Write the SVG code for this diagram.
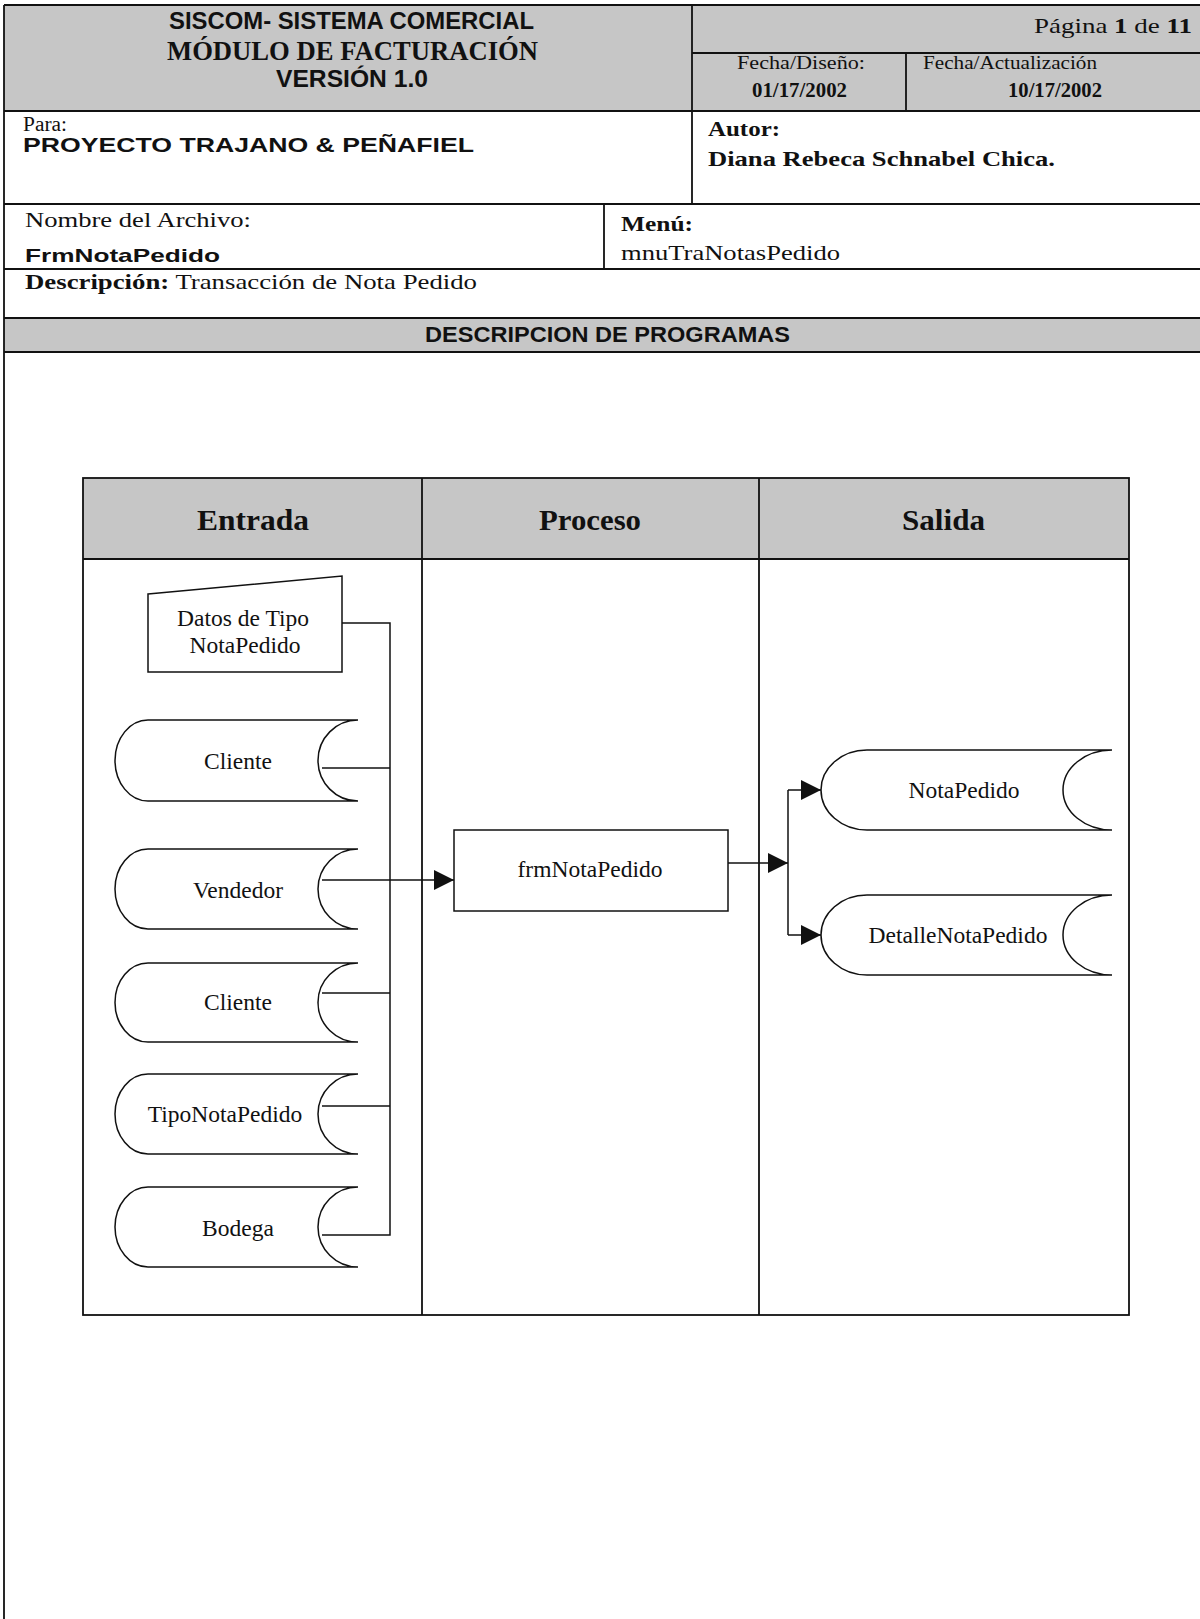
<svg xmlns="http://www.w3.org/2000/svg" width="1200" height="1619" viewBox="0 0 1200 1619">
<style>
.ln{stroke:#111;stroke-width:1.8;fill:none}
.cn{stroke:#111;stroke-width:1.5;fill:none}
.shape{fill:#fff;stroke:#111;stroke-width:1.5}
.gray{fill:#c6c6c6}
.ts{font-family:"Liberation Serif","Times New Roman",serif;fill:#111}
.ss{font-family:"Liberation Sans",Arial,sans-serif;fill:#111}
.b{font-weight:bold}
.lbl{font-family:"Liberation Serif","Times New Roman",serif;font-size:23.5px;fill:#111;text-anchor:middle}
.hd{font-family:"Liberation Serif","Times New Roman",serif;font-size:29px;font-weight:bold;fill:#111}
</style>
<defs>
<marker id="arr" markerUnits="userSpaceOnUse" markerWidth="20" markerHeight="20" refX="20" refY="10" orient="auto" viewBox="0 0 20 20">
<path d="M0,0 L20,10 L0,20 z" fill="#111"/>
</marker>
</defs>

<g id="header">
<rect class="gray" x="4" y="5" width="1196" height="106"/>
<rect class="gray" x="4" y="318" width="1196" height="34"/>
<path class="ln" d="M4,5 H1200 M692,53 H1200 M4,111 H1200 M4,204 H1200 M4,269 H1200 M4,318 H1200 M4,352 H1200 M4,5 V1619 M692,5 V204 M906,53 V111 M604,204 V269"/>
<text class="ss b" x="169" y="29" font-size="23.5" textLength="365" lengthAdjust="spacingAndGlyphs">SISCOM- SISTEMA COMERCIAL</text>
<text class="ts b" x="167" y="60" font-size="27" textLength="371" lengthAdjust="spacingAndGlyphs">MÓDULO DE FACTURACIÓN</text>
<text class="ss b" x="276" y="87" font-size="23" textLength="152" lengthAdjust="spacingAndGlyphs">VERSIÓN 1.0</text>
<text class="ts" x="1034" y="33" font-size="21" textLength="158" lengthAdjust="spacingAndGlyphs">Página <tspan class="b">1</tspan> de <tspan class="b">11</tspan></text>
<text class="ts" x="737" y="69" font-size="18" textLength="128" lengthAdjust="spacingAndGlyphs">Fecha/Diseño:</text>
<text class="ts b" x="752" y="97" font-size="20" textLength="95" lengthAdjust="spacingAndGlyphs">01/17/2002</text>
<text class="ts" x="923" y="69" font-size="18" textLength="174" lengthAdjust="spacingAndGlyphs">Fecha/Actualización</text>
<text class="ts b" x="1008" y="97" font-size="20" textLength="94" lengthAdjust="spacingAndGlyphs">10/17/2002</text>
<text class="ts" x="23" y="131" font-size="20" textLength="44" lengthAdjust="spacingAndGlyphs">Para:</text>
<text class="ss b" x="23" y="152" font-size="20" textLength="451" lengthAdjust="spacingAndGlyphs">PROYECTO TRAJANO &amp; PEÑAFIEL</text>
<text class="ts b" x="708" y="136" font-size="22" textLength="72" lengthAdjust="spacingAndGlyphs">Autor:</text>
<text class="ts b" x="708" y="166" font-size="22" textLength="347" lengthAdjust="spacingAndGlyphs">Diana Rebeca Schnabel Chica.</text>
<text class="ts" x="25" y="227" font-size="22" textLength="226" lengthAdjust="spacingAndGlyphs">Nombre del Archivo:</text>
<text class="ss b" x="25" y="262" font-size="19" textLength="195" lengthAdjust="spacingAndGlyphs">FrmNotaPedido</text>
<text class="ts b" x="621" y="231" font-size="22" textLength="72" lengthAdjust="spacingAndGlyphs">Menú:</text>
<text class="ts" x="621" y="260" font-size="22" textLength="219" lengthAdjust="spacingAndGlyphs">mnuTraNotasPedido</text>
<text class="ts" x="25" y="289" font-size="22" textLength="452" lengthAdjust="spacingAndGlyphs"><tspan class="b">Descripción:</tspan> Transacción de Nota Pedido</text>
<text class="ss b" x="425" y="342" font-size="22" textLength="365" lengthAdjust="spacingAndGlyphs">DESCRIPCION DE PROGRAMAS</text>
</g>

<g id="lanes">
<rect class="gray" x="83" y="478" width="1046" height="81"/>
<rect class="ln" x="83" y="478" width="1046" height="837"/>
<path class="ln" d="M83,559 H1129 M422,478 V1315 M759,478 V1315"/>
<text class="hd" x="197" y="530" textLength="112" lengthAdjust="spacingAndGlyphs">Entrada</text>
<text class="hd" x="539" y="530" textLength="102" lengthAdjust="spacingAndGlyphs">Proceso</text>
<text class="hd" x="902" y="530" textLength="83" lengthAdjust="spacingAndGlyphs">Salida</text>
</g>

<g id="connectors">
<path class="cn" d="M342,623 H390 V1235 H322"/>
<path class="cn" d="M322,768 H390"/>
<path class="cn" d="M322,993 H390"/>
<path class="cn" d="M322,1106 H390"/>
<path class="cn" d="M322,880 H454" marker-end="url(#arr)"/>
<path class="cn" d="M728,863 H788" marker-end="url(#arr)"/>
<path class="cn" d="M788,790 V935"/>
<path class="cn" d="M788,790 H821" marker-end="url(#arr)"/>
<path class="cn" d="M788,935 H821" marker-end="url(#arr)"/>
</g>

<g id="datos-tipo-notapedido">
<polygon class="shape" points="148,594 342,576 342,672 148,672"/>
<text class="lbl" x="243" y="626">Datos de Tipo</text>
<text class="lbl" x="245" y="653">NotaPedido</text>
</g>
<g id="cliente-1">
<path class="shape" d="M148,720 L358,720 A40,40.5 0 0 0 358,801 L148,801 A33,40.5 0 0 1 148,720 Z"/>
<text class="lbl" x="238" y="769">Cliente</text>
</g>
<g id="vendedor">
<path class="shape" d="M148,849 L358,849 A40,40 0 0 0 358,929 L148,929 A33,40 0 0 1 148,849 Z"/>
<text class="lbl" x="238" y="898">Vendedor</text>
</g>
<g id="cliente-2">
<path class="shape" d="M148,963 L358,963 A40,39.5 0 0 0 358,1042 L148,1042 A33,39.5 0 0 1 148,963 Z"/>
<text class="lbl" x="238" y="1010">Cliente</text>
</g>
<g id="tiponotapedido">
<path class="shape" d="M148,1074 L358,1074 A40,40 0 0 0 358,1154 L148,1154 A33,40 0 0 1 148,1074 Z"/>
<text class="lbl" x="225" y="1122">TipoNotaPedido</text>
</g>
<g id="bodega">
<path class="shape" d="M148,1187 L358,1187 A40,40 0 0 0 358,1267 L148,1267 A33,40 0 0 1 148,1187 Z"/>
<text class="lbl" x="238" y="1236">Bodega</text>
</g>
<g id="frmnotapedido">
<rect class="shape" x="454" y="830" width="274" height="81"/>
<text class="lbl" x="590" y="877">frmNotaPedido</text>
</g>
<g id="notapedido">
<path class="shape" d="M867,750 L1112,750 A49,40 0 0 0 1112,830 L867,830 A46,40 0 0 1 867,750 Z"/>
<text class="lbl" x="964" y="798">NotaPedido</text>
</g>
<g id="detallenotapedido">
<path class="shape" d="M867,895 L1112,895 A49,40 0 0 0 1112,975 L867,975 A46,40 0 0 1 867,895 Z"/>
<text class="lbl" x="958" y="943">DetalleNotaPedido</text>
</g>
</svg>
